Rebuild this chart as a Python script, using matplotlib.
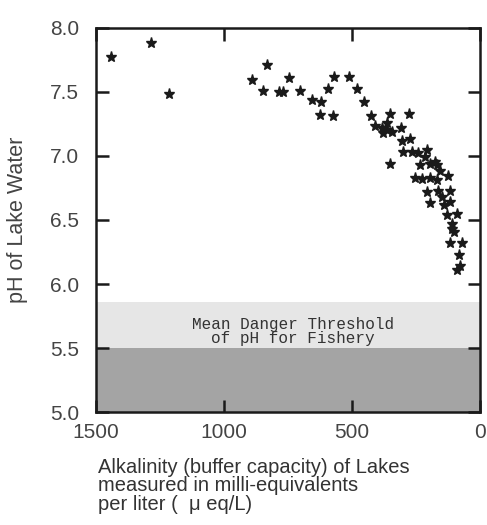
import matplotlib
matplotlib.use("Agg")
import matplotlib.pyplot as plt

# Lake alkalinity (ueq/L) vs pH
alkalinity = [1441, 1285, 1215, 892, 831, 745, 846, 785, 770, 703, 657, 622, 625, 573, 596, 569, 511, 482,
              453, 426, 354, 276, 410, 384, 364, 345, 378, 365, 310, 306, 273, 300, 267, 241, 206, 215,
              352, 234, 176, 195, 169, 156, 124, 254, 228, 195, 169, 208, 163, 117, 150, 195, 143, 117,
              130, 91, 111, 111, 104, 117, 72, 81, 91, 78]
ph = [7.77, 7.88, 7.48, 7.59, 7.71, 7.61, 7.51, 7.50, 7.50, 7.51, 7.44, 7.42, 7.32, 7.31, 7.52, 7.62, 7.62, 7.52,
      7.42, 7.31, 7.33, 7.33, 7.23, 7.22, 7.20, 7.19, 7.18, 7.26, 7.22, 7.12, 7.13, 7.03, 7.03, 7.02, 7.05, 6.99,
      6.94, 6.93, 6.95, 6.94, 6.93, 6.88, 6.84, 6.83, 6.82, 6.83, 6.81, 6.72, 6.73, 6.73, 6.68, 6.63, 6.62, 6.64,
      6.54, 6.55, 6.47, 6.43, 6.41, 6.32, 6.32, 6.23, 6.11, 6.14]

x_ticks = [1500, 1000, 500, 0]
y_ticks = [5.0, 5.5, 6.0, 6.5, 7.0, 7.5, 8.0]

# danger zone bands (pH)
danger_low = [5.0, 5.5]
danger_high = [5.5, 5.86]

plt.rcParams['font.family'] = ['Liberation Sans', 'DejaVu Sans']

fig = plt.figure(figsize=(4.87, 5.25), dpi=100)
ax = fig.add_axes([0.197, 0.215, 0.789, 0.732])

ax.axhspan(danger_high[0], danger_high[1], color='#e6e6e6', lw=0, zorder=0)
ax.axhspan(danger_low[0], danger_low[1], color='#a4a4a4', lw=0, zorder=0)
ax.text(730, 5.63, "Mean Danger Threshold\nof pH for Fishery", ha='center', va='center',
        fontsize=11.5, family='Liberation Mono', color='#333333', linespacing=0.95)

ax.plot(alkalinity, ph, linestyle='none', marker='*', markersize=8, color='#1a1a1a')

ax.set_xlim(1500, 0)
ax.set_ylim(5.0, 8.0)
ax.set_xticks(x_ticks)
ax.set_yticks(y_ticks)
ax.set_yticklabels([f"{v:.1f}" for v in y_ticks])
ax.tick_params(direction='in', length=9, width=1.8, top=True, right=True,
               labelsize=15, colors='#1a1a1a', labelcolor='#444444')
ax.tick_params(axis='y', pad=12)
ax.tick_params(axis='x', pad=8)
for s in ax.spines.values():
    s.set_linewidth(1.8)
    s.set_color('#1a1a1a')

fig.text(18 / 487, 1 - 220 / 525, "pH of Lake Water", rotation=90, ha='center', va='center',
         fontsize=15.5, color='#444444')
fig.text(98 / 487, 1 - 458 / 525,
         "Alkalinity (buffer capacity) of Lakes\nmeasured in milli-equivalents\nper liter (  \u03bc eq/L)",
         ha='left', va='top', fontsize=14.5, color='#333333', linespacing=0.95)

fig.savefig("out.png", dpi=100)
